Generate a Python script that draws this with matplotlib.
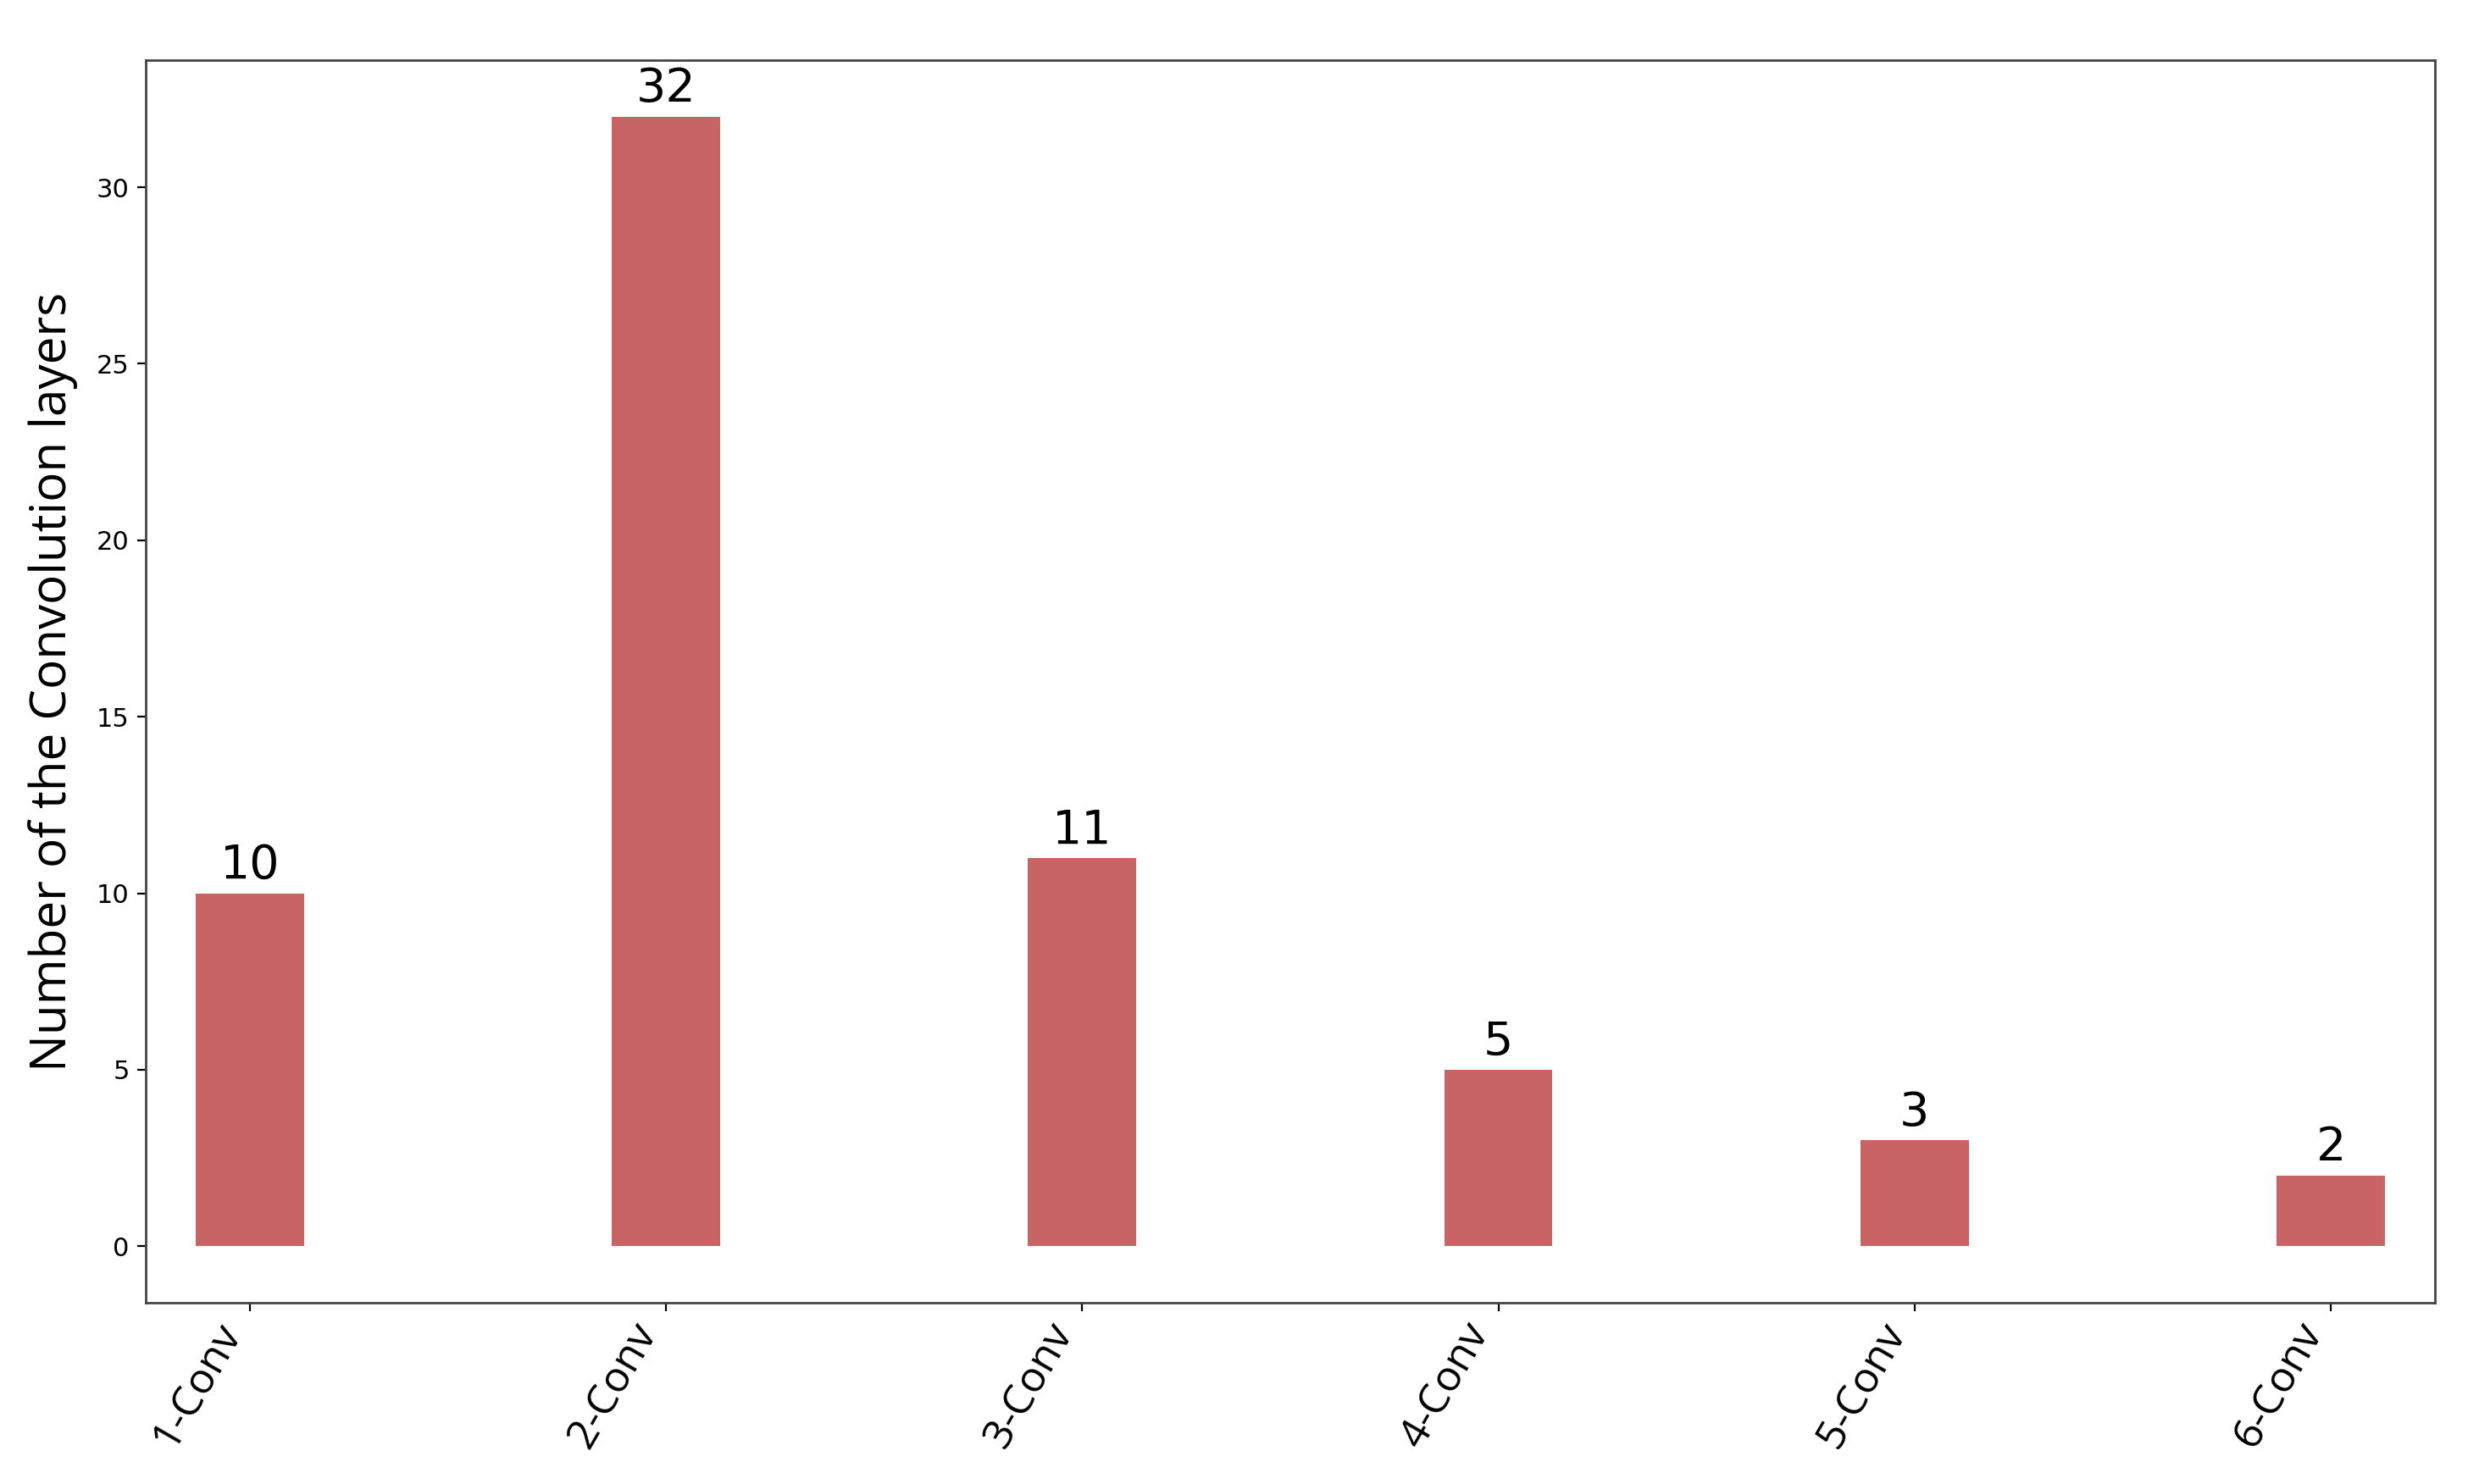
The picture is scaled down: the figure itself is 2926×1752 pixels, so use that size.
import matplotlib
matplotlib.use("Agg")
import matplotlib.pyplot as plt
import numpy as np

categories = ["1-Conv", "2-Conv", "3-Conv", "4-Conv", "5-Conv", "6-Conv"]
counts = [10, 32, 11, 5, 3, 2]

bar_color = "#C86464"

fig = plt.figure(figsize=(14.63, 8.76), dpi=200)
ax = fig.add_axes([0.0588, 0.1221, 0.9822 - 0.0588, 0.9595 - 0.1221])

x = np.arange(len(categories))
bars = ax.bar(x, counts, width=0.26, color=bar_color)

for xi, v in zip(x, counts):
    ax.annotate(str(v), xy=(xi, v), xytext=(0, 2), textcoords="offset points",
                ha="center", va="bottom", fontsize=20, color="black",
                family="DejaVu Sans")

ax.set_xlim(-0.25, 5.25)
ax.set_ylim(-1.6, 33.6)
ax.set_yticks([0, 5, 10, 15, 20, 25, 30])
ax.tick_params(axis="y", labelsize=11)
ax.tick_params(axis="x", pad=2)
ax.set_xticks(x)
ax.set_xticklabels(categories, rotation=60, ha="right", rotation_mode="default",
                   fontsize=18, family="Open Sans")
ax.set_ylabel("Number of the Convolution layers", fontsize=21, family="Open Sans",
              labelpad=8)

for s in ax.spines.values():
    s.set_color("#444444")
    s.set_linewidth(1.0)

fig.savefig("out.png", dpi=200)
